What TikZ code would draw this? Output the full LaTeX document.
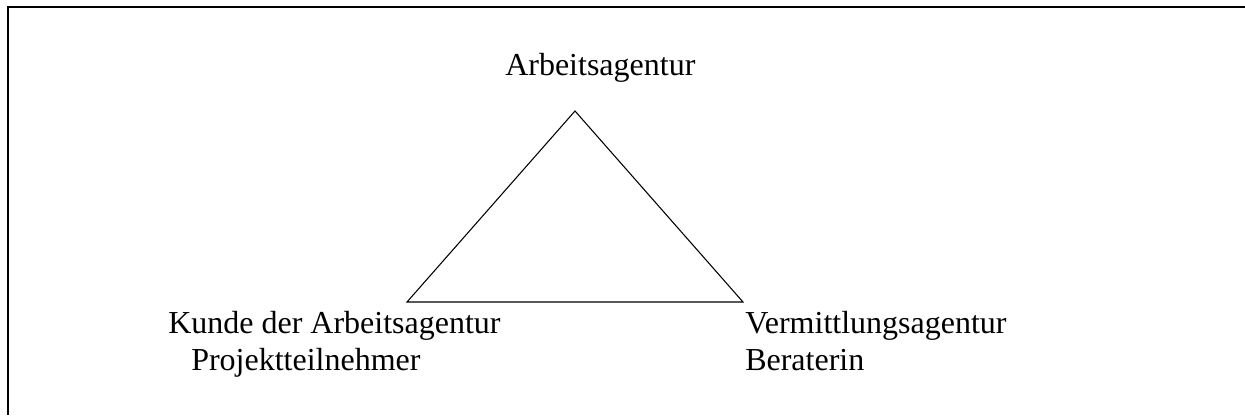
\documentclass[tikz,border=0pt]{standalone}
\usepackage{fontspec}
\setmainfont{Liberation Serif}
\usepackage{tikz}
\usetikzlibrary{positioning}
\tikzset{
  lblnode/.style={inner sep=0pt,anchor=base west,font=\fontsize{24}{28}\selectfont},
  triedge/.style={draw=black,line width=0.8pt,line join=miter},
  framerule/.style={draw=black,line width=1.4pt},
}

\begin{document}
\begin{tikzpicture}[x=0.75pt,y=-0.75pt]
  \useasboundingbox (0,0) rectangle (1245,415);
  % open frame (top and left edge only)
  \draw[framerule] (1245,7) -- (7.8,7) -- (7.8,415);
  % triangle corners
  \coordinate (cTop) at (575,111);
  \coordinate (cLeft) at (407,302);
  \coordinate (cRight) at (743,302);
  \draw[triedge] (cTop) -- (cLeft) -- (cRight) -- cycle;
  % labels
  \node[lblnode] (nAgentur) at (505,75) {Arbeitsagentur};
  \node[lblnode] (nKunde) at (168,333) {Kunde der Arbeitsagentur};
  \node[lblnode] (nTeiln) at (191,370) {Projektteilnehmer};
  \node[lblnode] (nVerm) at (745,333) {Vermittlungsagentur};
  \node[lblnode] (nBerat) at (745,370) {Beraterin};
\end{tikzpicture}
\end{document}
